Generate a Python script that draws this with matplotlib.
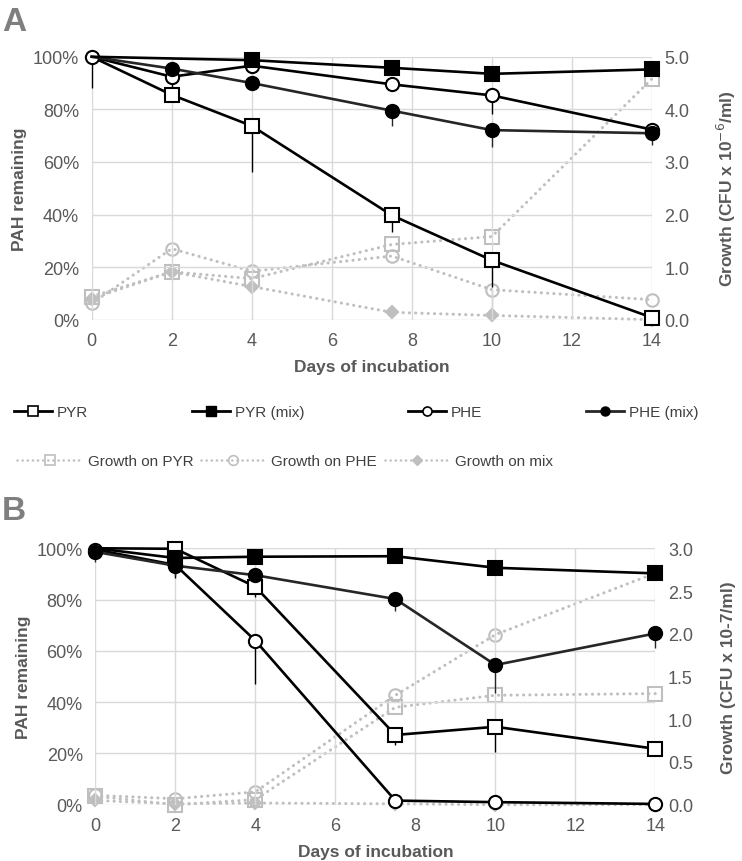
import matplotlib.pyplot as plt
from matplotlib.lines import Line2D
import numpy as np

plt.rcParams['font.family'] = ['Liberation Sans', 'DejaVu Sans']

GRAY_TXT = '#595959'
GROW = '#BFBFBF'
GRID = '#D9D9D9'

# ---------------- panel A data ----------------
days = [0, 2, 4, 7.5, 10, 14]
days_mixA = [0, 4, 7.5, 10, 14]

a_pyr = [100, 85.5, 73.7, 39.7, 22.6, 0.8]
a_pyr_err = [12, 0, 17.7, 6.5, 10, 0]
a_pyr_mix = [100, 98.7, 95.8, 93.5, 95.2]
a_pyr_mix_err = [0, 0, 0, 0, 0]
a_phe = [100, 92.4, 96.6, 89.5, 85.3, 72.3]
a_phe_err = [0, 5, 0, 2, 7, 0]
a_phe_mix = [100, 95.5, 90.0, 79.5, 72.1, 70.9]
a_phe_mix_err = [0, 0, 0, 5.7, 6.5, 4.5]

a_g_pyr = [0.44, 0.91, 0.78, 1.43, 1.58, 4.58]
a_g_pyr_err = [0, 0, 0, 0, 0, 0]
a_g_phe = [0.31, 1.35, 0.92, 1.21, 0.57, 0.38]
a_g_phe_err = [0, 0, 0, 0, 0.5, 0]
a_g_mix = [0.40, 0.91, 0.63, 0.14, 0.08, 0.0]
a_g_mix_err = [0, 0, 0, 0, 0, 0]

# ---------------- panel B data ----------------
b_pyr = [100, 99.8, 85.0, 27.2, 30.4, 21.8]
b_pyr_err = [0, 0, 4, 4, 10, 0]
b_pyr_mix = [100, 96.2, 96.7, 96.9, 92.4, 90.2]
b_pyr_mix_err = [0, 0, 0, 0, 3, 1.5]
b_phe = [99.5, 93.5, 64.0, 1.6, 1.0, 0.3]
b_phe_err = [0, 5, 17, 0, 0, 0]
b_phe_mix = [98.6, 93.2, 89.5, 80.2, 54.5, 66.8]
b_phe_mix_err = [4, 4, 0, 4.5, 11, 5.5]

b_g_pyr = [0.10, 0.0, 0.06, 1.14, 1.28, 1.30]
b_g_phe = [0.11, 0.07, 0.15, 1.28, 1.99, 2.71]
b_g_mix = [0.05, 0.01, 0.02, 0.01, 0.0, 0.0]
zeros = [0, 0, 0, 0, 0, 0]

fig = plt.figure(figsize=(7.42, 8.62), dpi=100)

DOTS = (0, (0.05, 2.0))


def black_series(ax, x, y, err, marker, mfc, color='black', skip0=False):
    ax.errorbar(x, y, yerr=[err, [0] * len(err)], fmt='none', ecolor=color,
                elinewidth=1, capsize=0, zorder=2, clip_on=False)
    ax.plot(x, y, color=color, lw=1.9, marker=marker,
            markersize=10 if marker == 's' else 9.5,
            markevery=list(range(1 if skip0 else 0, len(x))),
            mfc=mfc, mec='black', mew=1.5, zorder=3, clip_on=False)


def gray_series(ax, x, y, err, marker):
    ms = 10 if marker == 's' else (9 if marker == 'o' else 6)
    ax.errorbar(x, y, yerr=[err, [0] * len(err)], fmt='none', ecolor=GROW,
                elinewidth=1, capsize=0, zorder=2, clip_on=False)
    ax.plot(x, y, color=GROW, lw=2.2, ls=DOTS, dash_capstyle='round',
            marker=marker, markersize=ms,
            mfc='none' if marker != 'D' else GROW,
            mec=GROW, mew=1.5, zorder=2, clip_on=False)


def style(ax, ax2, rmax, rstep, rlabel, lpad, rpad):
    ax.set_xlim(0, 14)
    ax.set_ylim(0, 100)
    ax.set_xticks([0, 2, 4, 6, 8, 10, 12, 14])
    ax.set_yticks([0, 20, 40, 60, 80, 100])
    ax.set_yticklabels([f"{v}%" for v in [0, 20, 40, 60, 80, 100]])
    ax.grid(True, color=GRID, lw=1)
    ax.set_axisbelow(True)
    ax2.set_ylim(0, rmax)
    ax2.set_yticks(np.arange(0, rmax + 0.01, rstep))
    ax2.set_yticklabels([f"{v:.1f}" for v in np.arange(0, rmax + 0.01, rstep)])
    for a in (ax, ax2):
        for s in a.spines.values():
            s.set_visible(False)
        a.tick_params(length=0, labelsize=13, colors=GRAY_TXT, pad=9)
    ax.set_zorder(ax2.get_zorder() + 1)
    ax.patch.set_visible(False)
    ax.set_xlabel("Days of incubation", fontsize=12.5, fontweight='bold',
                  color=GRAY_TXT, labelpad=7)
    ax.set_ylabel("PAH remaining", fontsize=12.5, fontweight='bold',
                  color=GRAY_TXT, labelpad=lpad)
    ax2.set_ylabel(rlabel, fontsize=12.5, fontweight='bold', color=GRAY_TXT,
                   labelpad=rpad)


# ---- panel A ----
axA = fig.add_axes([0.1236, 0.628, 0.755, 0.305])
axA2 = axA.twinx()
gray_series(axA2, days, a_g_pyr, a_g_pyr_err, 's')
gray_series(axA2, days, a_g_phe, a_g_phe_err, 'o')
gray_series(axA2, days, a_g_mix, a_g_mix_err, 'D')
black_series(axA, days, a_pyr, a_pyr_err, 's', 'white', skip0=True)
black_series(axA, days, a_phe, a_phe_err, 'o', 'white')
black_series(axA, days, a_phe_mix, a_phe_mix_err, 'o', 'black', color='#262626', skip0=True)
black_series(axA, days_mixA, a_pyr_mix, a_pyr_mix_err, 's', 'black', skip0=True)
style(axA, axA2, 5.0, 1.0, "Growth (CFU x 10$^{-6}$/ml)", 4, 18)

# ---- panel B ----
axB = fig.add_axes([0.1284, 0.0653, 0.755, 0.2975])
axB2 = axB.twinx()
gray_series(axB2, days, b_g_pyr, zeros, 's')
gray_series(axB2, days, b_g_phe, zeros, 'o')
gray_series(axB2, days, b_g_mix, zeros, 'D')
black_series(axB, days, b_pyr, b_pyr_err, 's', 'white', skip0=True)
black_series(axB, days, b_pyr_mix, b_pyr_mix_err, 's', 'black', skip0=True)
black_series(axB, days, b_phe, b_phe_err, 'o', 'white')
black_series(axB, days, b_phe_mix, b_phe_mix_err, 'o', 'black', color='#262626')
style(axB, axB2, 3.0, 0.5, "Growth (CFU x 10-7/ml)", 4, 20)

# ---- legends ----
labels1 = ['PYR', 'PYR (mix)', 'PHE', 'PHE (mix)']
labels2 = ['Growth on PYR', 'Growth on PHE', 'Growth on mix']
h1 = [
    Line2D([], [], color='black', lw=2, marker='s', ms=7, mfc='white', mec='black', mew=1.2),
    Line2D([], [], color='black', lw=2, marker='s', ms=7, mfc='black', mec='black'),
    Line2D([], [], color='black', lw=2, marker='o', ms=6.5, mfc='white', mec='black', mew=1.2),
    Line2D([], [], color='#262626', lw=2, marker='o', ms=6.5, mfc='black', mec='black'),
]
h2 = [
    Line2D([], [], color=GROW, lw=1.8, ls=DOTS, dash_capstyle='round', marker='s', ms=7,
           mfc='none', mec=GROW, mew=1.2),
    Line2D([], [], color=GROW, lw=1.8, ls=DOTS, dash_capstyle='round', marker='o', ms=7,
           mfc='none', mec=GROW, mew=1.2),
    Line2D([], [], color=GROW, lw=1.8, ls=DOTS, dash_capstyle='round', marker='D', ms=5,
           mfc=GROW, mec=GROW),
]
leg_font = {'family': ['Liberation Sans Narrow', 'Liberation Sans'], 'size': 11}
fig.legend(h1, labels1, loc='center left', bbox_to_anchor=(0.0, 0.521, 0.96, 0.0),
           ncol=4, mode='expand', frameon=False, prop=leg_font,
           handlelength=2.5, handletextpad=0.3, labelcolor='#404040')
fig.legend(h2, labels2, loc='center left', bbox_to_anchor=(0.005, 0.464),
           ncol=3, frameon=False, prop=leg_font, handlelength=4.2,
           handletextpad=0.4, columnspacing=0.5, labelcolor='#404040')

fig.text(0.003, 0.992, "A", fontsize=24, fontweight='bold', color='#7F7F7F',
         va='top')
fig.text(0.003, 0.425, "B", fontsize=24, fontweight='bold', color='#7F7F7F',
         va='top')

fig.savefig("out.png", dpi=100)
